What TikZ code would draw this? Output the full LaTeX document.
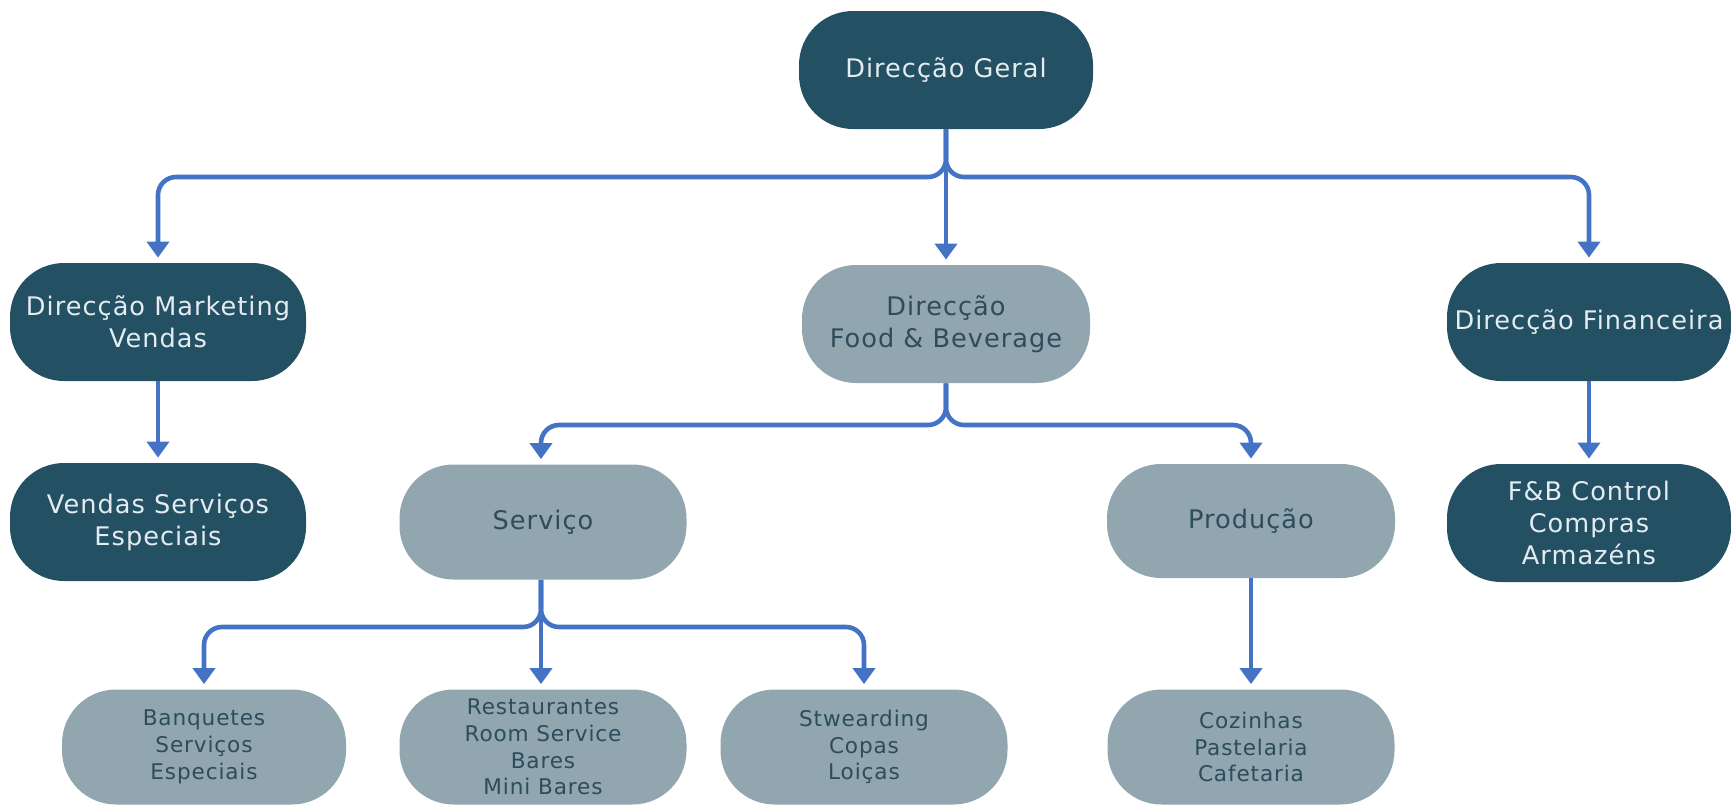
\documentclass[tikz,border=0pt]{standalone}
\usepackage{fontspec}
\setmainfont[LetterSpace=4]{DejaVu Sans}
\usetikzlibrary{arrows.meta}
\definecolor{darkbox}{RGB}{36,80,100}
\definecolor{lightbox}{RGB}{145,166,175}
\definecolor{darktext}{RGB}{228,236,240}
\definecolor{lighttext}{RGB}{45,76,92}
\definecolor{conncol}{RGB}{68,114,196}
\tikzset{
  box/.style={rectangle, rounded corners=27pt, minimum width=#1, minimum height=59pt, inner sep=0pt, align=center},
  darkbx/.style={box=#1, fill=darkbox, text=darktext, font=\fontsize{12.8}{16}\selectfont},
  lightbx/.style={box=#1, fill=lightbox, text=lighttext, font=\fontsize{12.8}{16}\selectfont},
  smallbx/.style={box=#1, fill=lightbox, text=lighttext, minimum height=57.5pt, font=\fontsize{10.8}{13.4}\selectfont},
  conn/.style={draw=conncol, line width=2.3pt, rounded corners=9pt, -{Triangle[width=11pt,length=8pt]}, shorten >=2.5pt}
}
\begin{document}
\begin{tikzpicture}[x=0.5pt,y=-0.5pt]
\useasboundingbox (0,0) rectangle (1731,804);
% level 0
\node[darkbx=147pt] (dg) at (946,70) {Direcção Geral};
% level 1
\node[darkbx=148pt] (mkt) at (158,322) {Direcção Marketing\\Vendas};
\node[lightbx=144pt] (fb) at (946,324) {Direcção\\Food \& Beverage};
\node[darkbx=142pt] (fin) at (1589,322) {Direcção Financeira};
% level 2
\node[darkbx=148pt] (vse) at (158,522) {Vendas Serviços\\Especiais};
\node[lightbx=143.5pt, minimum height=57.5pt] (serv) at (543,522) {Serviço};
\node[lightbx=144pt, minimum height=57pt] (prod) at (1251,521) {Produção};
\node[darkbx=142pt] (fbc) at (1589,523) {F\&B Control\\Compras\\Armazéns};
% level 3
\node[smallbx=142pt] (banq) at (204,747) {Banquetes\\Serviços\\Especiais};
\node[smallbx=143.5pt] (rest) at (543,747) {Restaurantes\\Room Service\\Bares\\Mini Bares};
\node[smallbx=143.5pt] (stw) at (864,747) {Stwearding\\Copas\\Loiças};
\node[smallbx=143.5pt] (coz) at (1251,747) {Cozinhas\\Pastelaria\\Cafetaria};
% connectors
\coordinate (j0) at (946,177);
\coordinate (j1) at (946,425);
\coordinate (j2) at (541,627);
\draw[conn] (dg.south) -- (dg.south |- j0) -| (mkt.north);
\draw[conn] (dg.south) -- (fb.north);
\draw[conn] (dg.south) -- (dg.south |- j0) -| (fin.north);
\draw[conn] (mkt.south) -- (vse.north);
\draw[conn] (fin.south) -- (fbc.north);
\draw[conn] (fb.south) -- (fb.south |- j1) -| ([xshift=-1pt]serv.north);
\draw[conn] (fb.south) -- (fb.south |- j1) -| (prod.north);
\draw[conn] ([xshift=-1pt]serv.south) -- ([xshift=-1pt]serv.south |- j2) -| (banq.north);
\draw[conn] ([xshift=-1pt]serv.south) -- ([xshift=-1pt]rest.north);
\draw[conn] ([xshift=-1pt]serv.south) -- ([xshift=-1pt]serv.south |- j2) -| (stw.north);
\draw[conn] (prod.south) -- (coz.north);
\end{tikzpicture}
\end{document}
